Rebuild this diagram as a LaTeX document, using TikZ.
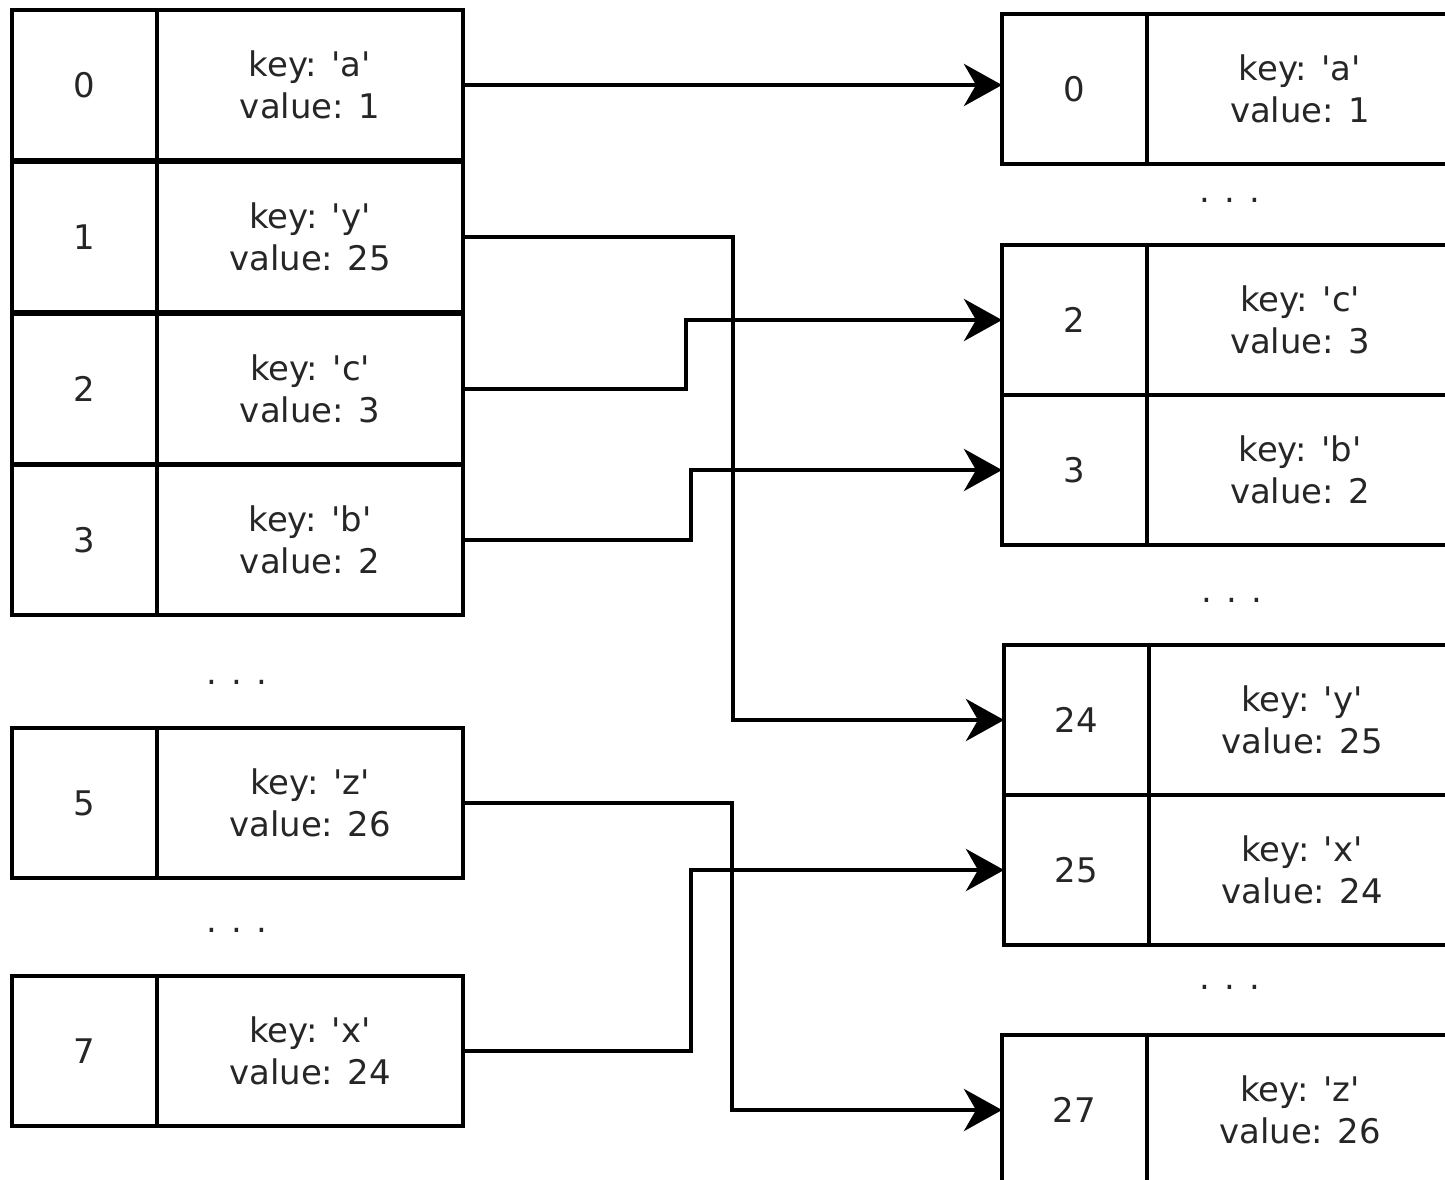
\documentclass[tikz,border=0pt]{standalone}
\usepackage{fontspec}
\setmainfont{DejaVu Sans}[Ligatures=TeXOff]
\usepackage{tikz}
\usetikzlibrary{positioning,arrows.meta}
\tikzset{
  basic/.style = {draw, rectangle, line width=2.6pt, outer sep=0pt, inner sep=0pt,
                  minimum height=30mm, align=center,
                  font=\fontsize{19.3}{24}\selectfont, text=black!85},
  slot/.style  = {basic, minimum width=29mm, anchor=north west},
  entry/.style = {basic, minimum width=61.2mm, anchor=west},
  gap/.style   = {font=\fontsize{19.3}{24}\selectfont, text=black!85},
  post/.style  = {-{Stealth[length=7.6mm,width=8.4mm,inset=2.4mm]}, line width=2.6pt}
}
\newcommand{\kv}[2]{key: '#1'\\value: #2}

\begin{document}
\begin{tikzpicture}[x=0.2mm, y=-0.2mm]
      \useasboundingbox (0,0) rectangle (1445,1179);
      \clip (0,0) rectangle (1445,1179);
      \node[slot]  (l0i) at (12,10)   {0};
      \node[entry] (l0v) at (l0i.east) {\kv{a}{1}};
      \node[slot]  (l1i) at (12,162)  {1};
      \node[entry] (l1v) at (l1i.east) {\kv{y}{25}};
      \node[slot]  (l2i) at (12,314)  {2};
      \node[entry] (l2v) at (l2i.east) {\kv{c}{3}};
      \node[slot]  (l3i) at (12,465)  {3};
      \node[entry] (l3v) at (l3i.east) {\kv{b}{2}};
      \node[gap]   (lg1) at (237,682) {. . .};
      \node[slot]  (l5i) at (12,728)  {5};
      \node[entry] (l5v) at (l5i.east) {\kv{z}{26}};
      \node[gap]   (lg2) at (237,930) {. . .};
      \node[slot]  (l7i) at (12,976)  {7};
      \node[entry] (l7v) at (l7i.east) {\kv{x}{24}};

      \node[slot]  (r0i)  at (1002,14)   {0};
      \node[entry] (r0v)  at (r0i.east)  {\kv{a}{1}};
      \node[gap]   (rg1)  at (1230,200)  {. . .};
      \node[slot]  (r2i)  at (1002,245)  {2};
      \node[entry] (r2v)  at (r2i.east)  {\kv{c}{3}};
      \node[slot]  (r3i)  at (1002,395)  {3};
      \node[entry] (r3v)  at (r3i.east)  {\kv{b}{2}};
      \node[gap]   (rg2)  at (1232,600)  {. . .};
      \node[slot]  (r24i) at (1004,645)  {24};
      \node[entry] (r24v) at (r24i.east) {\kv{y}{25}};
      \node[slot]  (r25i) at (1004,795)  {25};
      \node[entry] (r25v) at (r25i.east) {\kv{x}{24}};
      \node[gap]   (rg3)  at (1230,987)  {. . .};
      \node[slot]  (r27i) at (1002,1035) {27};
      \node[entry] (r27v) at (r27i.east) {\kv{z}{26}};

      \draw[post] (l0v.east) -- (l0v.east -| r0i.west);
      \draw[post] (l1v.east) -- ++(270,0) |- (r24i.west);
      \draw[post] (l2v.east) -- ++(223,0) |- (r2i.west);
      \draw[post] (l3v.east) -- ++(228,0) |- (r3i.west);
      \draw[post] (l5v.east) -- ++(269,0) |- (r27i.west);
      \draw[post] (l7v.east) -- ++(228,0) |- (r25i.west);
\end{tikzpicture}
\end{document}
